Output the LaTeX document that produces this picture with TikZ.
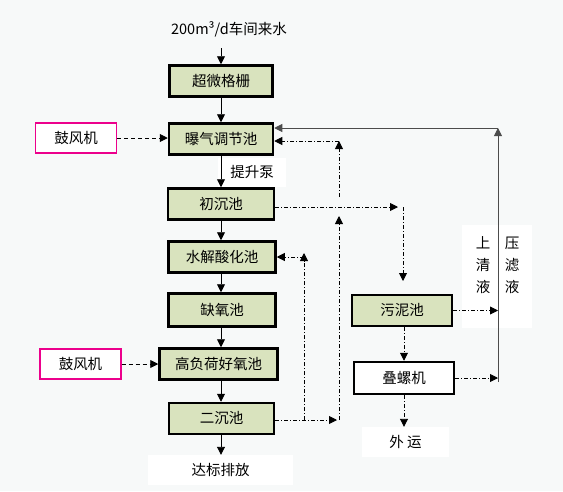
\documentclass[tikz,border=0pt]{standalone}
\usepackage{fontspec}
\newfontfamily\cjk{Noto Sans CJK SC}
\usetikzlibrary{arrows.meta}

\definecolor{poolgreen}{HTML}{D9E3BE}
\definecolor{paper}{HTML}{F7F9F9}

\tikzset{
    every node/.style={font=\cjk\fontsize{14.5}{17}\selectfont},
    pool/.style={draw, line width=2.5pt, fill=poolgreen, minimum height=31pt, inner sep=0pt},
    blower/.style={draw=magenta, line width=1.3pt, fill=white, minimum width=81pt, minimum height=30pt},
    plain/.style={fill=white, inner sep=0pt},
    flow/.style={-{Triangle[length=8pt,width=8pt]}, line width=0.9pt},
    mud/.style={flow, dash pattern=on 4pt off 2pt on 1pt off 2pt},
    air/.style={flow, dash pattern=on 4pt off 3pt},
}

\begin{document}
\begin{tikzpicture}[x=1pt, y=-1pt]
    \fill[paper] (0,0) rectangle (563,491);
    \useasboundingbox (0,0) rectangle (563,491);

    % main line
    \node (inflow) at (229,29) {200m³/d车间来水};
    \coordinate (in) at (221,48);
    \node[pool, minimum width=103pt] (grille) at (221,81) {超微格栅};
    \node[pool, minimum width=104pt] (equal) at (221,139) {曝气调节池};
    \node[plain, minimum width=68pt, minimum height=29pt] (pump) at (252,172) {提升泵};
    \node[pool, minimum width=106pt] (primary) at (221,204) {初沉池};
    \node[pool, minimum width=107pt] (hydro) at (222,257) {水解酸化池};
    \node[pool, minimum width=107pt, minimum height=33pt] (anoxic) at (222,310) {缺氧池};
    \node[pool, minimum width=118pt] (aerobic) at (218.5,364) {高负荷好氧池};
    \node[pool, minimum width=105pt] (secondary) at (221.5,418.5) {二沉池};
    \node[plain, minimum width=145pt, minimum height=30pt] (discharge) at (220.5,470) {达标排放};

    \node[blower] (blowerA) at (76,138) {鼓风机};
    \node[blower] (blowerB) at (80.5,364) {鼓风机};

    % sludge line
    \node[pool, minimum width=100pt] (sludge) at (402,310.5) {污泥池};
    \node[pool, fill=white, minimum width=100pt, minimum height=32pt] (press) at (404,378) {叠螺机};
    \node[plain, minimum width=87pt, minimum height=30pt] (out) at (405.5,442) {外\ 运};

    \node[plain, minimum width=70pt, minimum height=103pt] (liquor) at (497,276.5) {};
    \node[align=center, font=\cjk\fontsize{14.5}{22}\selectfont] (clear) at (483,265) {上\\清\\液};
    \node[align=center, font=\cjk\fontsize{14.5}{22}\selectfont] (filtrate) at (512,265) {压\\滤\\液};

    \coordinate (rt) at (498,128);
    \coordinate (rb) at (498,382);
    \coordinate (sp) at (403,207);
    \coordinate (spend) at (403,281);
    \coordinate (ra) at (304,420);
    \coordinate (rh) at (304,257);
    \coordinate (rc) at (339,420);
    \coordinate (rc1) at (339,216);
    \coordinate (rc2) at (339,197);
    \coordinate (re) at (339,141);

    \draw[flow] (in) -- (grille.north);
    \draw[flow] (grille.south) -- (grille.south |- equal.north);
    \draw[flow] (equal.south) -- (equal.south |- primary.north);
    \draw[flow] (primary.south) -- (primary.south |- hydro.north);
    \draw[flow] (hydro.south -| primary.south) -- (primary.south |- anoxic.north);
    \draw[flow] (anoxic.south -| primary.south) -- (primary.south |- aerobic.north);
    \draw[flow] (aerobic.south -| primary.south) -- (primary.south |- secondary.north);
    \draw[flow] (secondary.south -| primary.south) -- (primary.south |- discharge.north);

    \draw[air] (blowerA.east) -- (equal.west |- blowerA.east);
    \draw[air] (blowerB.east) -- (aerobic.west |- blowerB.east);

    % return of press filtrate
    \draw[flow, black!70] (rb) -- (rt);
    \draw[flow, black!70] (rt) -- (equal.east |- rt);

    \draw[mud] (sludge.east) -- (sludge.east -| rt);
    \draw[mud] (press.east) -- (press.east -| rt);
    \draw[mud] (sludge.south -| press.north) -- (press.north);
    \draw[mud] (press.south) -- (press.south |- out.north);

    \draw[mud] (primary.east |- sp) -- ([xshift=-5pt]sp);
    \draw[mud] (sp) -- (spend);

    \draw[mud] (secondary.east |- rc) -- ([xshift=-2pt]rc);
    \draw[mud] (ra) -- ([yshift=4pt]rh);
    \draw[mud] (rh) -- (hydro.east |- rh);
    \draw[mud] (rc) -- (rc1);
    \draw[mud] (rc2) -- (re);
    \draw[mud] (re) -- (equal.east |- re);
\end{tikzpicture}
\end{document}
